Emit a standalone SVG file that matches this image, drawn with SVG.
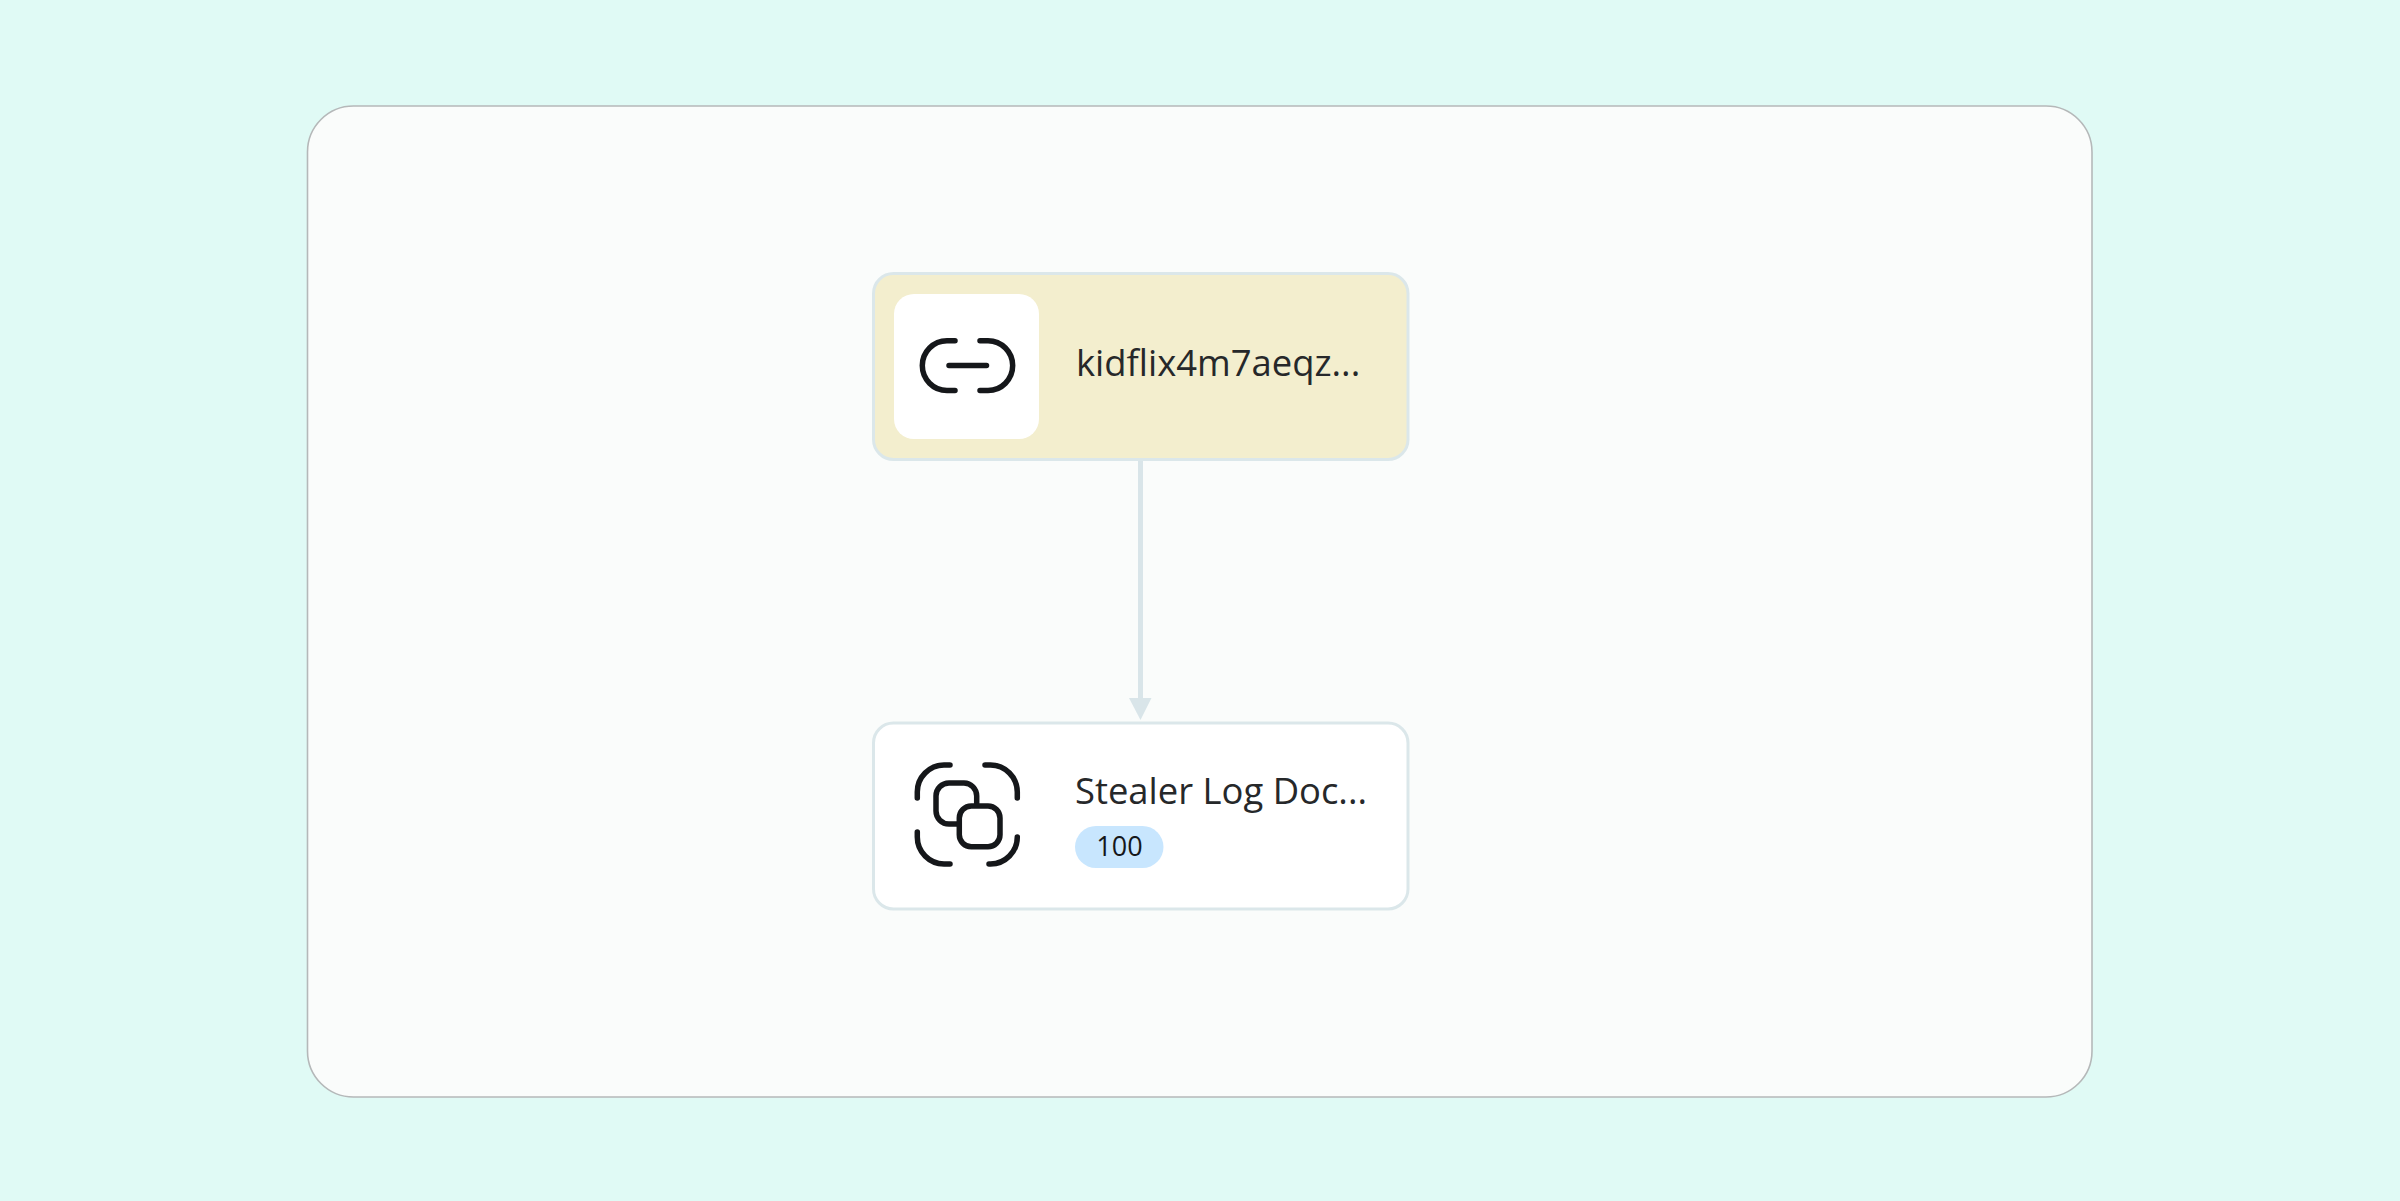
<svg xmlns="http://www.w3.org/2000/svg" width="2400" height="1201" viewBox="0 0 2400 1201">
<style>
.node{stroke:#dbe7ea;stroke-width:3}
.label{font-family:"Open Sans","Noto Sans",sans-serif;font-size:36.400px;fill:#26282a}
.badge{font-family:"Open Sans","Noto Sans",sans-serif;font-size:27px;fill:#15171a}
.icon{fill:none;stroke:#15171a;stroke-width:5.500;stroke-linecap:round;stroke-linejoin:round}
.edge{fill:none;stroke:#d9e5e9;stroke-width:5}
</style>
<rect width="2400" height="1201" fill="#e0faf5"/>
<rect id="panel" x="307.500" y="106" width="1784.500" height="991" rx="46" fill="#fafcfb" stroke="#b5b8b9" stroke-width="1.600"/>
<g id="connectors">
<path class="edge" d="M1140.500 461V700"/>
<path d="M1129 698H1151.500L1140.500 720Z" fill="#d9e5e9"/>
</g>
<g id="node-url">
<rect class="node" x="873.500" y="273.500" width="534.500" height="186" rx="20" fill="#f3eece"/>
<rect x="894" y="294" width="145" height="145" rx="20" fill="#fff"/>
<path class="icon" d="M955 340.700H947A24.500 24.700 0 0 0 947 390.500H955M980 340.700H988A24.700 24.900 0 0 1 988 390.500H980M949 365.500H986.500"/>
<text class="label" x="1076" y="375.500">kidflix4m7aeqz...</text>
</g>
<g id="node-docs">
<rect class="node" x="873.500" y="723" width="534.500" height="186" rx="20" fill="#fff"/>
<path class="icon" d="M950 765H944A27 27 0 0 0 917.300 792V798M985 765H990.500A27 27 0 0 1 1017.300 792V798M917.300 832V837A27 27 0 0 0 944 864H950M1017.300 837V837A27 27 0 0 1 990.500 864H989"/>
<path class="icon" d="M958.700 824H949A13 13 0 0 1 936 811V796A13 13 0 0 1 949 783H964A13 13 0 0 1 976.700 796V805"/>
<rect class="icon" x="959.300" y="806" width="40.700" height="40.700" rx="12"/>
<text class="label" x="1075" y="804">Stealer Log Doc...</text>
<rect x="1075" y="826" width="88.500" height="42" rx="21" fill="#c8e6fe"/>
<text class="badge" x="1119.500" y="856" text-anchor="middle">100</text>
</g>
</svg>
